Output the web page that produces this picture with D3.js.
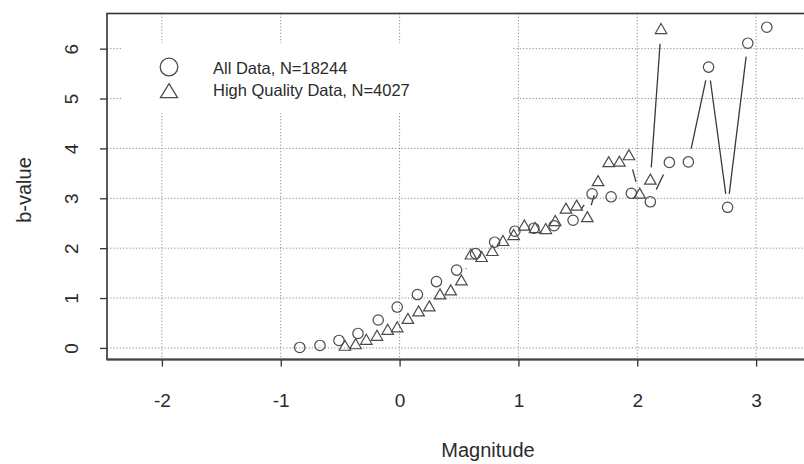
<!DOCTYPE html>
<html><head><meta charset="utf-8">
<script src="https://cdn.jsdelivr.net/npm/d3@7"></script>
<style>body{margin:0;background:#fff}</style>
</head><body>
<svg id="c" width="804" height="464" xmlns="http://www.w3.org/2000/svg"></svg>
<script>
// ---- data ----
const allMag = [-0.84, -0.67, -0.51, -0.35, -0.18, -0.02, 0.15, 0.31, 0.48, 0.64, 0.80, 0.97, 1.13, 1.30, 1.46, 1.62, 1.78, 1.95, 2.11, 2.27, 2.43, 2.60, 2.76, 2.93, 3.09];
const allB   = [0.01, 0.05, 0.15, 0.29, 0.56, 0.82, 1.07, 1.33, 1.56, 1.89, 2.12, 2.34, 2.40, 2.45, 2.56, 3.09, 3.03, 3.10, 2.93, 3.72, 3.73, 5.63, 2.82, 6.11, 6.43];
const hqMag  = [-0.46, -0.37, -0.28, -0.19, -0.10, -0.02, 0.07, 0.16, 0.25, 0.34, 0.43, 0.52, 0.60, 0.69, 0.78, 0.87, 0.96, 1.05, 1.14, 1.23, 1.31, 1.40, 1.49, 1.58, 1.67, 1.76, 1.85, 1.93, 2.02, 2.11, 2.20];
const hqB    = [0.02, 0.05, 0.14, 0.22, 0.34, 0.39, 0.56, 0.71, 0.81, 1.05, 1.13, 1.33, 1.85, 1.80, 1.92, 2.12, 2.24, 2.43, 2.38, 2.36, 2.52, 2.77, 2.83, 2.60, 3.32, 3.70, 3.71, 3.84, 3.07, 3.35, 6.37];
const xTicks = [-2, -1, 0, 1, 2, 3];
const yTicks = [0, 1, 2, 3, 4, 5, 6];
const legendLabels = ["All Data, N=18244", "High Quality Data, N=4027"];
const xTitle = "Magnitude";
const yTitle = "b-value";

// ---- layout ----
const svg = d3.select("#c");
const L = 107, R = 869, T = 13.5, B = 359.5;
const x = d3.scaleLinear().domain([-2.462, 3.95]).range([L, R]);
const y = d3.scaleLinear().domain([-0.232, 6.705]).range([B, T]);
const font = "'Liberation Sans', Arial, Helvetica, sans-serif";
const ink = "#2b2b2b";
const gridCol = "#8c8c8c";

// grid
const grid = svg.append("g");
grid.selectAll("line.gx").data(xTicks).join("line")
  .attr("x1", d => x(d)).attr("x2", d => x(d)).attr("y1", T).attr("y2", B)
  .attr("stroke", gridCol).attr("stroke-width", 1).attr("stroke-dasharray", "1.2,2");
grid.selectAll("line.gy").data(yTicks).join("line")
  .attr("x1", L).attr("x2", R).attr("y1", d => y(d)).attr("y2", d => y(d))
  .attr("stroke", gridCol).attr("stroke-width", 1).attr("stroke-dasharray", "1.2,2");

// legend background (hides grid)
svg.append("rect").attr("x", 123).attr("y", 43).attr("width", 389).attr("height", 70).attr("fill", "#fff");

// type="b" connecting lines with gaps around the points
const GAP = 13.5;
function gapSegs(xs, ys) {
  const segs = [];
  for (let i = 0; i < xs.length - 1; i++) {
    const x1 = x(xs[i]), y1 = y(ys[i]), x2 = x(xs[i + 1]), y2 = y(ys[i + 1]);
    const d = Math.hypot(x2 - x1, y2 - y1);
    if (d > 2 * GAP) {
      const ux = (x2 - x1) / d, uy = (y2 - y1) / d;
      segs.push([x1 + ux * GAP, y1 + uy * GAP, x2 - ux * GAP, y2 - uy * GAP]);
    }
  }
  return segs;
}
const lines = svg.append("g").attr("stroke", "#3a3a3a").attr("stroke-width", 1.3);
lines.selectAll("line.a").data(gapSegs(allMag, allB)).join("line")
  .attr("x1", d => d[0]).attr("y1", d => d[1]).attr("x2", d => d[2]).attr("y2", d => d[3]);
lines.selectAll("line.h").data(gapSegs(hqMag, hqB)).join("line")
  .attr("x1", d => d[0]).attr("y1", d => d[1]).attr("x2", d => d[2]).attr("y2", d => d[3]);

// markers
function triPath(cx, cy, w, h) {
  return `M${cx},${cy - h * 2 / 3}L${cx + w / 2},${cy + h / 3}L${cx - w / 2},${cy + h / 3}Z`;
}
const ptCol = "#4a4a4a";
svg.append("g").selectAll("circle").data(allMag.map((m, i) => [m, allB[i]])).join("circle")
  .attr("cx", d => x(d[0])).attr("cy", d => y(d[1])).attr("r", 5.2)
  .attr("fill", "none").attr("stroke", ptCol).attr("stroke-width", 1.2);
svg.append("g").selectAll("path").data(hqMag.map((m, i) => [m, hqB[i]])).join("path")
  .attr("d", d => triPath(x(d[0]), y(d[1]), 11.5, 10))
  .attr("fill", "none").attr("stroke", ptCol).attr("stroke-width", 1.2);

// box
svg.append("rect").attr("x", L).attr("y", T).attr("width", R - L).attr("height", B - T)
  .attr("fill", "none").attr("stroke", "#333").attr("stroke-width", 1.6);
svg.append("line").attr("x1", L).attr("x2", R).attr("y1", B).attr("y2", B)
  .attr("stroke", "#444").attr("stroke-width", 2.2);

// axes
const xAxis = svg.append("g").attr("transform", `translate(0,${B})`)
  .call(d3.axisBottom(x).tickValues(xTicks).tickSize(7).tickFormat(d3.format("d")));
xAxis.select(".domain").remove();
xAxis.selectAll(".tick line").attr("stroke", "#333").attr("stroke-width", 1.3);
xAxis.selectAll(".tick text").attr("y", 47.5).attr("dy", null)
  .attr("font-family", font).attr("font-size", 19).attr("fill", ink)
  .text(d => d < 0 ? "-" + Math.abs(d) : String(d));

const yAxis = svg.append("g").attr("transform", `translate(${L},0)`)
  .call(d3.axisLeft(y).tickValues(yTicks).tickSize(7).tickFormat(d3.format("d")));
yAxis.select(".domain").remove();
yAxis.selectAll(".tick line").attr("stroke", "#333").attr("stroke-width", 1.3);
yAxis.selectAll(".tick text").attr("x", null).attr("dy", null)
  .attr("text-anchor", "middle").attr("transform", "translate(-29,0) rotate(-90)")
  .attr("font-family", font).attr("font-size", 19).attr("fill", ink);

// titles
svg.append("text").attr("x", 488).attr("y", 457).attr("text-anchor", "middle")
  .attr("font-family", font).attr("font-size", 20).attr("fill", ink).text(xTitle);
svg.append("text").attr("transform", "translate(31,190) rotate(-90)").attr("text-anchor", "middle")
  .attr("font-family", font).attr("font-size", 20).attr("fill", ink).text(yTitle);

// legend
const lg = svg.append("g");
lg.append("circle").attr("cx", 169).attr("cy", 67).attr("r", 8.8)
  .attr("fill", "none").attr("stroke", ptCol).attr("stroke-width", 1.3);
lg.append("path").attr("d", triPath(169, 93, 17, 14))
  .attr("fill", "none").attr("stroke", ptCol).attr("stroke-width", 1.3);
lg.selectAll("text").data(legendLabels).join("text")
  .attr("x", 213).attr("y", (d, i) => 74 + i * 22)
  .attr("font-family", font).attr("font-size", 16.5).attr("fill", ink).text(d => d);
</script>
</body></html>
